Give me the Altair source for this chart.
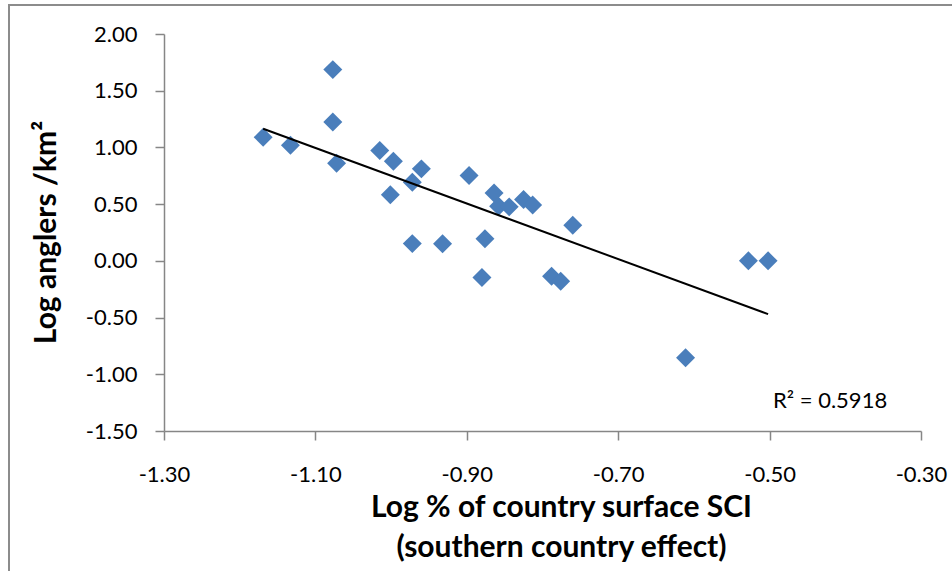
import altair as alt
import pandas as pd

# Data
x_vals = [-1.169, -1.133, -1.077, -1.077, -1.072, -1.015, -0.997, -1.001,
          -0.960, -0.972, -0.972, -0.932, -0.897, -0.864, -0.858, -0.844,
          -0.825, -0.813, -0.760, -0.876, -0.880, -0.788, -0.776, -0.528,
          -0.502, -0.611]
y_vals = [1.09, 1.02, 1.686, 1.225, 0.860, 0.972, 0.878, 0.582,
          0.811, 0.693, 0.152, 0.150, 0.752, 0.599, 0.481, 0.476,
          0.540, 0.493, 0.314, 0.194, -0.147, -0.136, -0.180, 0.0,
          0.0, -0.855]
x_ticks = [-1.3, -1.1, -0.9, -0.7, -0.5, -0.3]
y_ticks = [-1.5, -1.0, -0.5, 0.0, 0.5, 1.0, 1.5, 2.0]
x_title = ["Log % of country surface SCI", "(southern country effect)"]
y_title = "Log anglers /km²"
r2_label = ["R² = 0.5918"]

df = pd.DataFrame({"x": x_vals, "y": y_vals})

FONT = "Lato"
AXIS_GREY = "#868686"
label_expr = "replace(format(datum.value, '.2f'), '\u2212', '-')"

x_scale = alt.Scale(domain=[-1.3, -0.3], nice=False, zero=False)
y_scale = alt.Scale(domain=[-1.5, 2.0], nice=False, zero=False)

x_axis = alt.Axis(
    values=x_ticks, labelExpr=label_expr, grid=False, labelFlush=False,
    domainColor=AXIS_GREY, tickColor=AXIS_GREY, domainWidth=1.5, tickWidth=1.5,
    tickSize=9, labelFont=FONT, labelFontSize=22, labelColor="black",
    labelPadding=24, title=x_title, titleFont=FONT, titleFontSize=30,
    titleFontWeight="bold", titleColor="black", titleLineHeight=40,
    titleX=397, titleY=85, titleBaseline="alphabetic", titleAlign="center",
)
y_axis = alt.Axis(
    values=y_ticks, labelExpr=label_expr, grid=False, labelFlush=False,
    domainColor=AXIS_GREY, tickColor=AXIS_GREY, domainWidth=1.5, tickWidth=1.5,
    tickSize=9, labelFont=FONT, labelFontSize=22, labelColor="black",
    labelPadding=18, title=y_title, titleFont=FONT, titleFontSize=30,
    titleFontWeight="bold", titleColor="black", titleAngle=270,
    titleX=-109, titleY=198, titleBaseline="alphabetic", titleAlign="center",
)

base = alt.Chart(df)

points = base.mark_point(
    shape="diamond", filled=True, size=360, color="#4A7EBB", opacity=1
).encode(
    x=alt.X("x:Q", scale=x_scale, axis=x_axis),
    y=alt.Y("y:Q", scale=y_scale, axis=y_axis),
)

trend = base.transform_regression("x", "y").mark_line(
    color="black", strokeWidth=2
).encode(
    x=alt.X("x:Q", scale=x_scale),
    y=alt.Y("y:Q", scale=y_scale),
)

r2 = alt.Chart(pd.DataFrame({"t": r2_label})).mark_text(
    align="left", baseline="alphabetic", font=FONT, fontSize=22, color="black"
).encode(
    text="t:N", x=alt.value(609), y=alt.value(374)
)

frame = alt.Chart(pd.DataFrame({"a": [0]})).mark_rect(
    fill=None, stroke="#8c8c8c", strokeWidth=2
).encode(
    x=alt.value(-155), x2=alt.value(800), y=alt.value(-29), y2=alt.value(560)
)

chart = alt.layer(frame, points, trend, r2).properties(
    width=757, height=397, autosize="none",
    padding={"left": 164, "top": 34, "right": 31, "bottom": 140},
    background="white",
).configure_view(stroke=None)

chart.save("out.html", embed_options={"renderer": "svg", "actions": False})
